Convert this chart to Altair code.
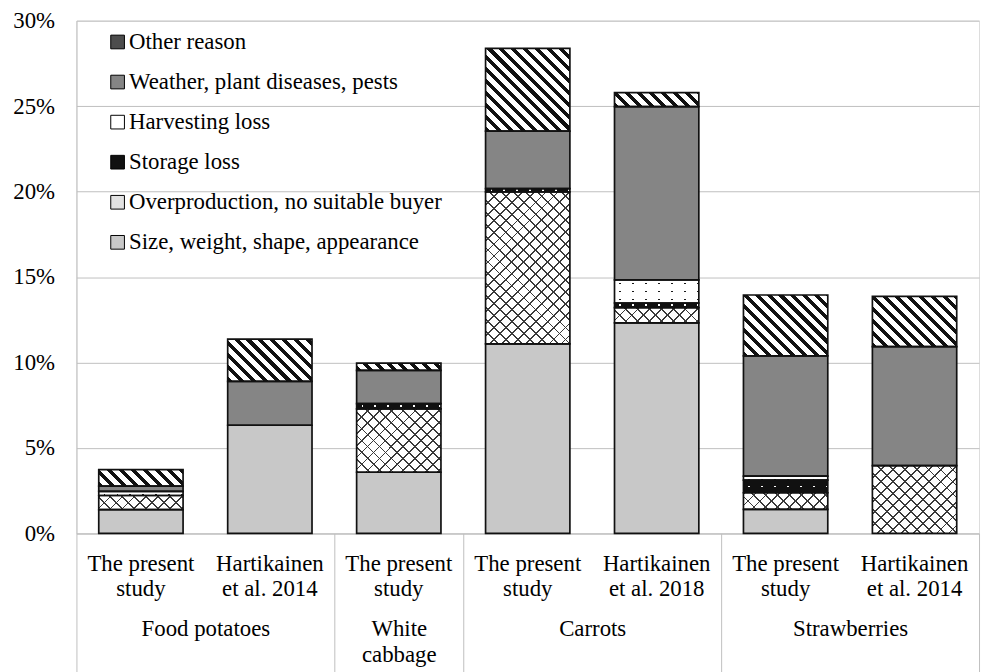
import json
import math

import altair as alt
import pandas as pd

# ---------------- data ----------------
bar_labels = [["The present", "study"], ["Hartikainen", "et al. 2014"],
              ["The present", "study"],
              ["The present", "study"], ["Hartikainen", "et al. 2018"],
              ["The present", "study"], ["Hartikainen", "et al. 2014"]]
group_labels = [["Food potatoes"], ["White", "cabbage"], ["Carrots"], ["Strawberries"]]
group_sizes = [2, 1, 2, 2]

# stacking order, bottom -> top
categories = ["Size, weight, shape, appearance",
              "Overproduction, no suitable buyer",
              "Storage loss",
              "Harvesting loss",
              "Weather, plant diseases, pests",
              "Other reason"]

size_vals = [1.39, 6.33, 3.58, 11.09, 12.32, 1.41, 0.0]
over_vals = [0.83, 0.0, 3.71, 8.89, 0.89, 0.97, 3.97]
storage_vals = [0.0, 0.0, 0.31, 0.19, 0.27, 0.74, 0.0]
harvest_vals = [0.24, 0.0, 0.0, 0.0, 1.36, 0.23, 0.0]
weather_vals = [0.31, 2.57, 1.94, 3.37, 10.13, 7.04, 6.96]
other_vals = [0.96, 2.47, 0.42, 4.84, 0.82, 3.56, 2.94]

y_ticks = [0, 5, 10, 15, 20, 25, 30]

series = [size_vals, over_vals, storage_vals, harvest_vals, weather_vals, other_vals]

rows = []
for b in range(len(bar_labels)):
    cum = 0.0
    for ci, vals in enumerate(series):
        v = vals[b]
        if v > 0:
            rows.append(dict(bar=b, ci=ci, cat=categories[ci], value=v, v0=cum, v1=cum + v))
        cum += v
df = pd.DataFrame(rows)

# ---------------- geometry / style ----------------
FONT = "Liberation Serif, Times New Roman, Times, DejaVu Serif, serif"
PLOT_W, PLOT_H = 910, 517
Y_MAX = 30
N_BARS = len(bar_labels)
PAD_IN = 0.346
STEP = PLOT_W / N_BARS
BAR_W = STEP * (1 - PAD_IN)
PX_PER_UNIT = PLOT_H / Y_MAX
GREY = "#bfbfbf"
CLEAR = "rgba(255,255,255,0)"


def stripes(w, h, nx, ny, period, on, on_color, off_color=CLEAR, phase=0.0):
    """Linear gradient (bbox units) giving stripes with a pixel period/width."""
    n = math.hypot(nx, ny)
    nx, ny = nx / n, ny / n
    L = w * abs(nx) + h * abs(ny)
    den = (w * nx) ** 2 + (h * ny) ** 2
    a = w * nx * L / den
    b = h * ny * L / den
    x1 = 0.0 if nx >= 0 else 1.0
    y1 = 0.0 if ny >= 0 else 1.0
    stops = [{"offset": 0, "color": off_color}]
    s = phase % period - period
    while s < L:
        s0, s1 = max(s, 0.0), min(s + on, L)
        if s1 > s0:
            o0, o1 = round(s0 / L, 5), round(s1 / L, 5)
            stops += [{"offset": o0, "color": off_color},
                      {"offset": o0, "color": on_color},
                      {"offset": o1, "color": on_color},
                      {"offset": o1, "color": off_color}]
        s += period
    stops.append({"offset": 1, "color": off_color})
    return {"gradient": "linear", "x1": x1, "y1": y1,
            "x2": round(x1 + a, 5), "y2": round(y1 + b, 5), "stops": stops}


def pattern_fills(ci, w, h):
    if ci == 0:   # fine dots (rendered as an even light grey)
        return ["#c8c8c8"]
    if ci == 1:   # diamond cross-hatch
        return ["#ffffff",
                stripes(w, h, 1, 1, 8.5, 1.3, "#3a3a3a"),
                stripes(w, h, 1, -1, 8.5, 1.3, "#3a3a3a")]
    if ci == 2:   # black with white dots
        ph = ((h - 1.8) / 2) % 8
        return ["#ffffff",
                stripes(w, h, 0, 1, 8, 1.8, CLEAR, "#111111", phase=ph),
                stripes(w, h, 1, 0, 13, 1.8, CLEAR, "#111111", phase=5)]
    if ci == 3:   # white with sparse dots
        return ["#1a1a1a",
                stripes(w, h, 0, 1, 8, 1.6, CLEAR, "#ffffff", phase=3),
                stripes(w, h, 1, 0, 13, 1.6, CLEAR, "#ffffff", phase=5)]
    if ci == 4:   # dense dark checker
        return ["#858585"]
    return ["#ffffff", stripes(w, h, 1, -1, 8.5, 3.6, "#111111")]   # diagonal stripes


# ---------------- encodings ----------------
x_scale = alt.Scale(domain=list(range(N_BARS)), paddingInner=PAD_IN, paddingOuter=PAD_IN / 2)
x_axis = alt.Axis(title=None, orient="bottom", labelExpr=f"{json.dumps(bar_labels)}[datum.value]",
                  labelFont=FONT, labelFontSize=23, labelColor="black", labelLineHeight=26,
                  labelPadding=19, ticks=False, domain=True, domainColor=GREY, labelAngle=0,
                  labelOverlap=False, grid=False)
x_enc = alt.X("bar:O", scale=x_scale, axis=x_axis)

y_scale = alt.Scale(domain=[0, Y_MAX], nice=False, zero=True)
y_axis = alt.Axis(title=None, values=y_ticks, labelExpr="datum.value + '%'", grid=True,
                  gridColor=GREY, gridWidth=1, domain=True, domainColor=GREY, ticks=False,
                  labelPadding=22, labelFont=FONT, labelFontSize=23, labelColor="black")
y_enc = alt.Y("v1:Q", scale=y_scale, axis=y_axis)
y2_enc = alt.Y2("v0:Q")

seg_layers = []
for r in rows:
    h = r["value"] * PX_PER_UNIT
    for fill in pattern_fills(r["ci"], BAR_W, h):
        seg_layers.append(
            alt.Chart(df)
            .transform_filter(f"datum.bar == {r['bar']} && datum.ci == {r['ci']}")
            .mark_bar(fill=fill)
            .encode(x=x_enc, y=y_enc, y2=y2_enc)
        )

outline = alt.Chart(df).mark_bar(fillOpacity=0, stroke="#111111", strokeWidth=1.7).encode(
    x=x_enc, y=y_enc, y2=y2_enc)

# ---------------- group axis + legend ----------------
bounds = [0]
for s in group_sizes:
    bounds.append(bounds[-1] + s)
centers = [(bounds[i] + bounds[i + 1]) / 2 for i in range(len(group_sizes))]
g_label_expr = "".join(f"datum.value == {c} ? {json.dumps(g)} : "
                       for c, g in zip(centers, group_labels)) + "''"
TICK_LEN = 150
g_axis = alt.Axis(orient="bottom", values=sorted(bounds + centers), labelExpr=g_label_expr,
                  title=None, grid=False, domain=False, ticks=True, tickSize=TICK_LEN,
                  tickColor=GREY, tickWidth=1,
                  tickOpacity={"condition": {"test": f"indexof({json.dumps(bounds)}, datum.value) >= 0",
                                             "value": 1}, "value": 0},
                  labelPadding=84.8 - TICK_LEN, labelFont=FONT, labelFontSize=23,
                  labelColor="black", labelLineHeight=26, labelOverlap=False,
                  labelFlush=False, labelBound=False, labelAngle=0)

legend_order = categories[::-1]
legend_colors = ["#4d4d4d", "#858585", "#ffffff", "#111111", "#e2e2e2", "#c8c8c8"]
legend = alt.Legend(orient="none", legendX=30, legendY=10, title=None, labelFont=FONT,
                    labelFontSize=23, labelColor="black", labelLimit=600, symbolType="square",
                    symbolSize=190, symbolStrokeColor="black", symbolStrokeWidth=1,
                    symbolOpacity=1, rowPadding=16.4, labelOffset=0, padding=0)

guide = alt.Chart(df).transform_filter("false").mark_square(opacity=1, size=10).encode(
    x=alt.X("gx:Q", scale=alt.Scale(domain=[0, N_BARS], nice=False, zero=False), axis=g_axis),
    fill=alt.Fill("cat:N", scale=alt.Scale(domain=legend_order, range=legend_colors), legend=legend),
)

chart = (
    alt.layer(alt.layer(*seg_layers, outline), guide)
    .resolve_scale(x="independent")
    .properties(width=PLOT_W, height=PLOT_H,
                autosize=alt.AutoSizeParams(type="none"),
                padding={"left": 69, "top": 10, "right": 3, "bottom": 145})
    .configure_view(strokeWidth=0)
    .configure(font=FONT)
)

chart.save("out.html", embed_options={"renderer": "svg", "actions": False})
